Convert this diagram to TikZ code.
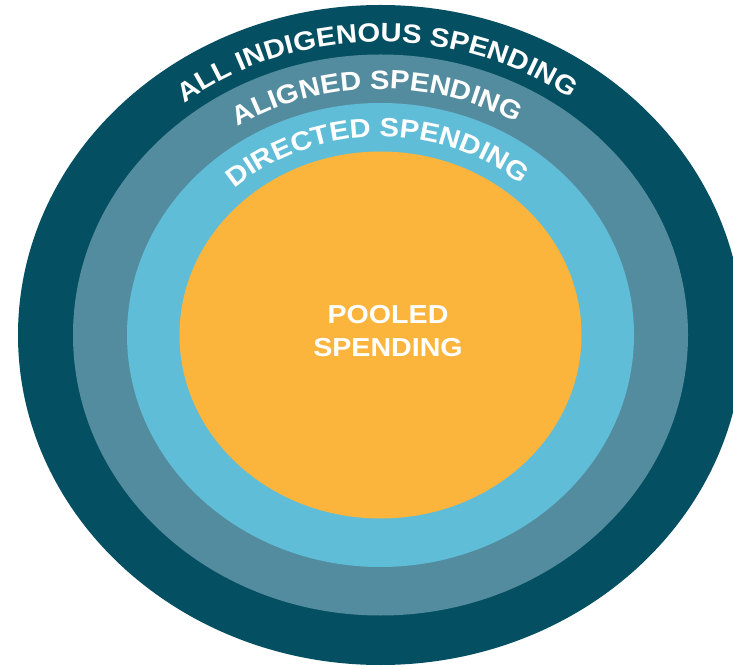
\documentclass[tikz,border=0pt]{standalone}
\usepackage{fontspec}
\setmainfont{Liberation Sans}
\newfontfamily\lblfont[FakeStretch=1.1]{Liberation Sans Bold}
\usetikzlibrary{decorations.text}
\definecolor{ringA}{RGB}{4,79,97}
\definecolor{ringB}{RGB}{84,140,159}
\definecolor{ringC}{RGB}{96,189,215}
\definecolor{core}{RGB}{251,180,60}
\tikzset{
  ringtext/.style={decorate, decoration={text along path, text align=center, text color=white, text={|\lblfont\fontsize{26.5}{30}\selectfont|#1}}}
}
\begin{document}
\begin{tikzpicture}[x=1pt,y=1pt]
\useasboundingbox (0,0) rectangle (733,667);
\clip (0,0) rectangle (733,667);
\coordinate (c) at (380.5,332);
\fill[ringA] (c) ellipse[x radius=362.5, y radius=330];
\fill[ringB] (c) ellipse[x radius=307.5, y radius=280.5];
\fill[ringC] (c) ellipse[x radius=253.5, y radius=232];
\fill[core] (c) ellipse[x radius=201, y radius=183.5];
\path[ringtext={ALL INDIGENOUS SPENDING}] (c) ++(180.8:321 and 293) arc[start angle=180.8, end angle=0.8, x radius=321, y radius=293];
\path[ringtext={ALIGNED SPENDING}] (c) ++(180.9:269 and 246) arc[start angle=180.9, end angle=0.9, x radius=269, y radius=246];
\path[ringtext={DIRECTED SPENDING}] (c) ++(181:217 and 198) arc[start angle=181, end angle=1, x radius=217, y radius=198];
\node[text=white, align=center, font=\lblfont\fontsize{26}{33}\selectfont, inner sep=0pt] (pooled) at (388,336) {POOLED\\SPENDING};
\end{tikzpicture}
\end{document}
